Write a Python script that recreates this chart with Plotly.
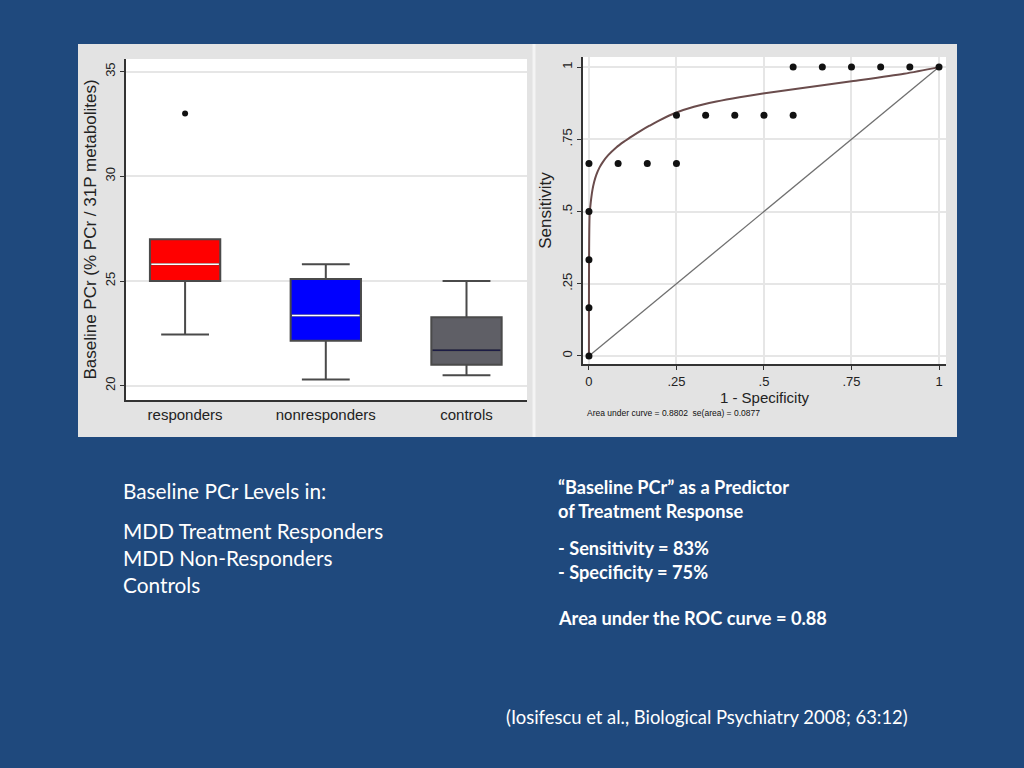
import plotly.graph_objects as go

# box plot data (Baseline PCr, % PCr / 31P metabolites)
groups = ['responders', 'nonresponders', 'controls']
q1 = [25.0, 22.15, 21.0]
median = [25.8, 23.35, 21.7]
q3 = [27.0, 25.1, 23.27]
lower_whisker = [22.45, 20.3, 20.5]
upper_whisker = [27.0, 25.8, 25.0]
outlier_group = [0]
outlier_value = [33.0]
box_colors = ['#ff0000', '#0000ff', '#5f5f66']
median_colors = ['#ffffff', '#ffffff', '#1c1c45']

# ROC data (empirical points + fitted curve)
roc_fpr = [0, 0, 0, 0, 0, 1/12, 2/12, 3/12, 3/12, 4/12, 5/12, 6/12, 7/12,
           7/12, 8/12, 9/12, 10/12, 11/12, 1]
roc_tpr = [0, 1/6, 2/6, 3/6, 4/6, 4/6, 4/6, 4/6, 5/6, 5/6, 5/6, 5/6, 5/6,
           1, 1, 1, 1, 1, 1]
fit_fpr = [0, 0.002, 0.005, 0.01, 0.015, 0.021, 0.03, 0.04, 0.055, 0.078,
           0.1, 0.126, 0.15, 0.173, 0.2, 0.25, 0.3, 0.364, 0.43, 0.497, 0.6,
           0.75, 0.9, 1.0]
fit_tpr = [0, 0.49, 0.53, 0.575, 0.603, 0.627, 0.652, 0.672, 0.695, 0.722,
           0.742, 0.763, 0.781, 0.797, 0.815, 0.843, 0.863, 0.881, 0.896,
           0.909, 0.926, 0.951, 0.977, 1.0]
diag = [0, 1]

W, H = 1024, 768
BG = '#1f497d'


def px(x):
    return x / W


def py(y):
    return 1 - y / H


fig = go.Figure()

# left panel: box plot
for i, g in enumerate(groups):
    fig.add_trace(go.Box(
        x=[i], q1=[q1[i]], median=[median[i]], q3=[q3[i]],
        lowerfence=[lower_whisker[i]], upperfence=[upper_whisker[i]],
        fillcolor=box_colors[i], line=dict(color='#4a4a4a', width=2),
        width=0.5, whiskerwidth=0.68, boxpoints=False, name=g,
        xaxis='x', yaxis='y'))
    fig.add_trace(go.Scatter(
        x=[i - 0.24, i + 0.24], y=[median[i], median[i]], mode='lines',
        line=dict(color=median_colors[i], width=1.5), xaxis='x', yaxis='y'))

fig.add_trace(go.Scatter(x=outlier_group, y=outlier_value, mode='markers',
                         marker=dict(color='#111111', size=6),
                         xaxis='x', yaxis='y'))

# right panel: ROC
fig.add_trace(go.Scatter(x=diag, y=diag, mode='lines',
                         line=dict(color='#707070', width=1.3),
                         xaxis='x2', yaxis='y2'))
fig.add_trace(go.Scatter(x=fit_fpr, y=fit_tpr, mode='lines',
                         line=dict(color='#6a4c4c', width=2, shape='spline',
                                   smoothing=0.8),
                         xaxis='x2', yaxis='y2'))
fig.add_trace(go.Scatter(x=roc_fpr, y=roc_tpr, mode='markers',
                         marker=dict(color='#111111', size=7),
                         xaxis='x2', yaxis='y2'))

axis_font = dict(family='Liberation Sans, Arial', size=13, color='#222222')
box_dom_x = [px(126), px(527)]
box_dom_y = [py(400), py(59)]
roc_dom_x = [px(583), px(946)]
roc_dom_y = [py(364), py(57)]

fig.update_layout(
    width=W, height=H,
    margin=dict(l=0, r=0, t=0, b=0),
    paper_bgcolor=BG, plot_bgcolor='rgba(0,0,0,0)',
    showlegend=False,
    xaxis=dict(domain=box_dom_x, range=[-0.42, 2.43],
               tickvals=[0, 1, 2], ticktext=groups, ticks='',
               showgrid=False, zeroline=False, showline=True,
               linecolor='#333333', linewidth=2,
               tickfont=dict(family='Liberation Sans, Arial', size=15,
                             color='#222222'),
               anchor='y'),
    yaxis=dict(domain=box_dom_y, range=[19.32, 35.6],
               tickvals=[20, 25, 30, 35], tickangle=-90,
               ticks='outside', ticklen=4, tickcolor='#333333',
               showgrid=True, gridcolor='#e6e6e6', gridwidth=1.5,
               zeroline=False, showline=True, linecolor='#333333',
               linewidth=2, tickfont=axis_font,
               title=dict(text='Baseline PCr (% PCr / 31P metabolites)',
                          font=dict(family='Liberation Sans, Arial', size=17,
                                    color='#222222'), standoff=2),
               anchor='x'),
    xaxis2=dict(domain=roc_dom_x, range=[-0.017, 1.02],
                tickvals=[0, 0.25, 0.5, 0.75, 1],
                ticktext=['0', '.25', '.5', '.75', '1'],
                ticks='outside', ticklen=4, tickcolor='#333333',
                showgrid=True, gridcolor='#e6e6e6', gridwidth=1.5,
                zeroline=False, showline=True, linecolor='#333333',
                linewidth=2, tickfont=axis_font,
                title=dict(text='1 - Specificity',
                           font=dict(family='Liberation Sans, Arial', size=15,
                                     color='#222222'), standoff=2),
                anchor='y2'),
    yaxis2=dict(domain=roc_dom_y, range=[-0.028, 1.035],
                tickvals=[0, 0.25, 0.5, 0.75, 1],
                ticktext=['0', '.25', '.5', '.75', '1'], tickangle=-90,
                ticks='outside', ticklen=4, tickcolor='#333333',
                showgrid=True, gridcolor='#e6e6e6', gridwidth=1.5,
                zeroline=False, showline=True, linecolor='#333333',
                linewidth=2, tickfont=axis_font,
                title=dict(text='Sensitivity',
                           font=dict(family='Liberation Sans, Arial', size=17,
                                     color='#222222'), standoff=4),
                anchor='x2'),
)

# light gray image panel behind both charts, white plot areas on top
fig.add_shape(type='rect', xref='paper', yref='paper',
              x0=px(78), x1=px(957), y0=py(437), y1=py(44),
              fillcolor='#e3e3e3', line=dict(width=0), layer='below')
fig.add_shape(type='line', xref='paper', yref='paper',
              x0=px(534), x1=px(534), y0=py(437), y1=py(44),
              line=dict(color='#f4f4f4', width=3), layer='below')
for dx, dy in [(box_dom_x, box_dom_y), (roc_dom_x, roc_dom_y)]:
    fig.add_shape(type='rect', xref='paper', yref='paper',
                  x0=dx[0], x1=dx[1], y0=dy[0], y1=dy[1],
                  fillcolor='#ffffff', line=dict(width=0), layer='below')

fig.add_annotation(text='Area under curve = 0.8802  se(area) = 0.0877',
                   x=px(585), y=py(413), xref='paper', yref='paper',
                   xanchor='left', yanchor='middle', showarrow=False,
                   font=dict(family='Liberation Sans, Arial', size=8.5,
                             color='#111111'))

texts_left = [('Baseline PCr Levels in:', 490),
              ('MDD Treatment Responders', 530),
              ('MDD Non-Responders', 557),
              ('Controls', 584)]
texts_right = [('“Baseline PCr” as a Predictor', 487),
               ('of Treatment Response', 511),
               ('- Sensitivity = 83%', 548),
               ('- Specificity = 75%', 572),
               ('Area under the ROC curve = 0.88', 618)]

for t, y in texts_left:
    fig.add_annotation(text=t, x=px(121), y=py(y), xref='paper', yref='paper',
                       xanchor='left', yanchor='middle', showarrow=False,
                       font=dict(family='Lato', size=20.8, color='#ffffff'))

for t, y in texts_right:
    fig.add_annotation(text='<b>' + t + '</b>', x=px(556), y=py(y),
                       xref='paper', yref='paper', xanchor='left',
                       yanchor='middle', showarrow=False,
                       font=dict(family='Lato', size=18.2, color='#ffffff'))

fig.add_annotation(text='(Iosifescu et al., Biological Psychiatry 2008; 63:12)',
                   x=px(504), y=py(717), xref='paper', yref='paper',
                   xanchor='left', yanchor='middle', showarrow=False,
                   font=dict(family='Lato', size=18.4, color='#ffffff'))

fig.write_html('out.html',
               config={'displayModeBar': False},
               post_script="document.body.style.margin='0';"
                           "document.body.style.background='%s';" % BG)
